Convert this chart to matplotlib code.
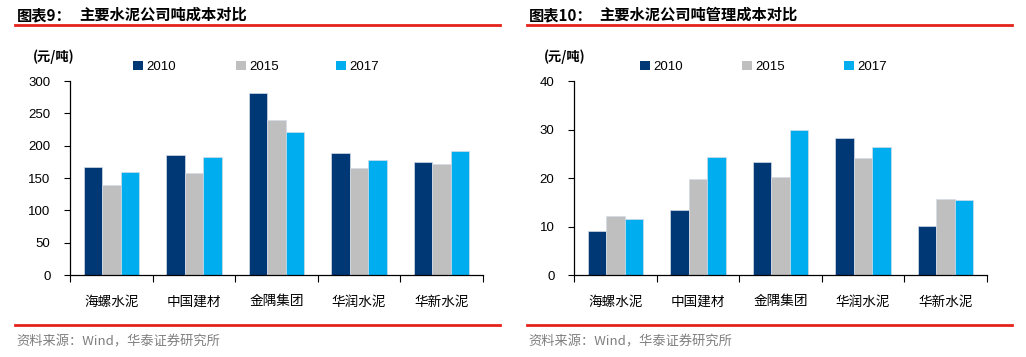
import matplotlib
matplotlib.use("Agg")
import matplotlib.pyplot as plt
from matplotlib.lines import Line2D
from matplotlib.patches import Patch
import numpy as np

plt.rcParams['font.family'] = ['Liberation Sans', 'Noto Sans CJK SC', 'DejaVu Sans']

categories = ['海螺水泥', '中国建材', '金隅集团', '华润水泥', '华新水泥']
years = ['2010', '2015', '2017']
colors = ['#003876', '#BFBFBF', '#00ADEE']

cost_2010 = [167.5, 186, 282, 189, 174]
cost_2015 = [138.7, 157, 239, 166, 171.6]
cost_2017 = [159, 182.5, 220.7, 178, 191]

mgmt_2010 = [9.0, 13.3, 23.3, 28.2, 10.2]
mgmt_2015 = [12.2, 19.7, 20.2, 24.1, 15.6]
mgmt_2017 = [11.5, 24.3, 30.0, 26.4, 15.4]

W, H = 1026, 357
fig = plt.figure(figsize=(W / 100, H / 100), dpi=100)

def fx(px):
    return px / W

def fy(py):
    return 1 - py / H

panels = [
    dict(left=70, title_num='图表9：', title='主要水泥公司吨成本对比', series=[cost_2010, cost_2015, cost_2017],
         ylim=300, yticks=np.arange(0, 301, 50), line_x=(15, 500), title_off=64, unit_x=33, legend_x=[137, 240, 340]),
    dict(left=574, title_num='图表10：', title='主要水泥公司吨管理成本对比', series=[mgmt_2010, mgmt_2015, mgmt_2017],
         ylim=40, yticks=np.arange(0, 41, 10), line_x=(527, 1012), title_off=72, unit_x=544, legend_x=[644, 746, 848]),
]

cjk = ['Noto Sans CJK SC', 'DejaVu Sans']
for p in panels:
    ax = fig.add_axes([fx(p['left']), fy(275), fx(413), (275 - 81) / H])
    x = np.arange(len(categories))
    bw = 0.223
    for i, (vals, c) in enumerate(zip(p['series'], colors)):
        ax.bar(x + (i - 1) * bw, vals, width=bw, color=c, edgecolor='#D5DCE8', linewidth=0.5)
    ax.set_xlim(-0.5, len(categories) - 0.5)
    ax.set_ylim(0, p['ylim'])
    ax.set_yticks(p['yticks'])
    ax.set_xticks(np.arange(-0.5, len(categories), 1.0))
    ax.set_xticklabels([])
    ax.set_xticks(x, minor=True)
    ax.set_xticklabels(categories, minor=True, family=cjk, fontsize=9.8)
    ax.tick_params(axis='x', which='major', length=5, width=0.8, direction='out')
    ax.tick_params(axis='x', which='minor', length=0, pad=14)
    ax.tick_params(axis='y', length=4, width=0.8, direction='out', labelsize=9.5, pad=10)
    for s in ['top', 'right']:
        ax.spines[s].set_visible(False)
    for s in ['left', 'bottom']:
        ax.spines[s].set_linewidth(0.9)

    # title
    lx0, lx1 = p['line_x']
    fig.text(fx(lx0 + 2), fy(15), p['title_num'], family=cjk, fontsize=11, fontweight='bold', va='center', ha='left')
    fig.text(fx(lx0 + p['title_off']), fy(15), p['title'], family=cjk, fontsize=11, fontweight='bold', va='center', ha='left')
    fig.add_artist(Line2D([fx(lx0), fx(lx1)], [fy(25), fy(25)], color='#E3231B', linewidth=2))
    fig.add_artist(Line2D([fx(lx0), fx(lx1)], [fy(325), fy(325)], color='#E3231B', linewidth=2))
    fig.text(fx(lx0 + 1), fy(342), '资料来源：Wind，华泰证券研究所', family=cjk, fontsize=9.5, color='#7F7F7F', va='center', ha='left')

    # unit label
    fig.text(fx(p['unit_x']), fy(57), '(元/吨)', family=cjk, fontsize=9.5, fontweight='bold', va='center', ha='left')

    # legend entries
    for lxp, yr, c in zip(p['legend_x'], years, colors):
        fig.legend(handles=[Patch(facecolor=c, edgecolor='none')], labels=[yr],
                   loc='center left', bbox_to_anchor=(fx(lxp - 4), fy(67)), frameon=False,
                   handlelength=0.75, handleheight=0.75, handletextpad=0.25, borderpad=0,
                   borderaxespad=0, fontsize=9.5)

fig.savefig('out.png', dpi=100)
